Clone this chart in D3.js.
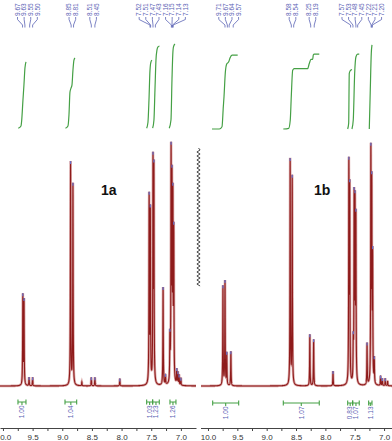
<!DOCTYPE html>
<html>
<head>
<meta charset="utf-8">
<script src="https://cdn.jsdelivr.net/npm/d3@7"></script>
<style>
  body { margin: 0; background: #fff; }
  svg { display: block; }
  .axis text { font-family: Arial, "Liberation Sans", sans-serif; font-size: 8px; fill: #333; }
  .axis path, .axis line { stroke: #444; }
  .plabel, .ilabel { font-family: Arial, "Liberation Sans", sans-serif; font-size: 6.5px; fill: #5b63b5; }
  .cname { font-family: Arial, "Liberation Sans", sans-serif; font-size: 14px; font-weight: bold; fill: #111; }
</style>
</head>
<body>
<svg id="chart" width="392" height="441"></svg>
<script>
// compound names
var compoundNames = ["1a", "1b"];

// peaks: [ppm, relative height]
var peaks1a = [
  [9.665, 36.5], [9.645, 34.5], [9.56, 3.5], [9.50, 3.5],
  [8.86, 91], [8.82, 82], [8.67, 1.5], [8.51, 3.5], [8.45, 3.5], [8.03, 3],
  [7.535, 76], [7.515, 70], [7.47, 89], [7.455, 86], [7.30, 40], [7.26, 4],
  [7.185, 18], [7.165, 92], [7.15, 78], [7.135, 72], [7.12, 60],
  [7.07, 6], [7.05, 5], [7.03, 4], [7.00, 3]
];
var peaks1b = [
  [9.745, 40.5], [9.71, 42.5], [9.68, 13], [9.61, 14],
  [8.60, 92], [8.565, 85], [8.265, 21], [8.20, 19], [7.87, 6],
  [7.60, 88], [7.585, 78], [7.525, 15], [7.51, 74], [7.495, 70], [7.48, 66],
  [7.29, 17], [7.225, 93], [7.21, 78], [7.195, 50], [7.167, 10],
  [7.06, 4], [7.03, 3], [6.98, 3], [6.94, 2]
];

// peak pick labels, one list per group
var peakLabels1a = [
  ["9.67", "9.63", "9.55", "9.50"],
  ["8.85", "8.81"],
  ["8.51", "8.45"],
  ["7.52", "7.51", "7.47", "7.43", "7.16", "7.15", "7.14", "7.13"]
];
var peakLabels1b = [
  ["9.71", "9.67", "9.64", "9.57"],
  ["8.58", "8.54"],
  ["8.25", "8.19"],
  ["7.57", "7.53", "7.48", "7.45", "7.22", "7.21", "7.20"]
];

// integral curves: [ppm, level]
var integrals1a = [
  [[9.742, 0.8], [9.696, 3.5], [9.685, 9.4], [9.663, 34], [9.646, 52], [9.629, 72], [9.612, 79]],
  [[8.946, 0.8], [8.904, 3.5], [8.887, 16.5], [8.870, 43.5], [8.853, 48], [8.836, 52], [8.820, 69], [8.803, 81], [8.786, 83.5]],
  [[7.577, 1], [7.555, 8], [7.538, 34], [7.521, 69], [7.504, 79], [7.487, 81]],
  [[7.476, 1], [7.454, 10.6], [7.437, 46], [7.420, 81], [7.403, 93], [7.386, 96.5], [7.361, 97.6]],
  [[7.196, 1], [7.167, 10.6], [7.150, 58], [7.137, 87], [7.125, 96.5], [7.100, 100]]
];
var integrals1b = [
  [[9.932, 0], [9.807, 0], [9.761, 2.7], [9.739, 26], [9.727, 38], [9.705, 66], [9.681, 76.5], [9.647, 79], [9.625, 83.5], [9.591, 87], [9.494, 87]],
  [[8.717, 0], [8.625, 0.8], [8.598, 10.6], [8.581, 38], [8.557, 69], [8.530, 71], [8.302, 71], [8.274, 77], [8.245, 82], [8.216, 82], [8.206, 87], [8.189, 88], [8.104, 88]],
  [[7.620, 0], [7.603, 6.7], [7.593, 65.5], [7.576, 68.6], [7.547, 70]],
  [[7.547, 0], [7.525, 10.6], [7.501, 65.5], [7.479, 85], [7.450, 88], [7.423, 88]],
  [[7.252, 0], [7.235, 46], [7.218, 89], [7.206, 99]]
];

// integration ranges: [from ppm, to ppm, value]
var intBars1a = [
  [9.747, 9.612, "1.00"], [8.954, 8.757, "1.04"], [7.577, 7.476, "1.03"],
  [7.476, 7.364, "1.23"], [7.184, 7.083, "1.26"]
];
var intBars1b = [
  [9.920, 9.477, "1.00"], [8.717, 8.104, "1.07"], [7.620, 7.535, "0.83"],
  [7.535, 7.423, "1.07"], [7.263, 7.206, "1.13"]
];

// axis ticks (ppm)
var tickValues = [10.0, 9.75, 9.5, 9.25, 9.0, 8.75, 8.5, 8.25, 8.0, 7.75, 7.5, 7.25, 7.0];

var lineWidth = 0.004; // lorentzian half width, ppm

var svg = d3.select("#chart");

var yScale = d3.scaleLinear().domain([0, 100]).range([386, 141]);
var yInt = d3.scaleLinear().domain([0, 100]).range([129, 44]);

var panels = [
  {name: compoundNames[0], peaks: peaks1a, labels: peakLabels1a, integrals: integrals1a, bars: intBars1a,
   x: d3.scaleLinear().domain([10.05, 6.745]).range([0, 196]), clip: [0, 197], namePos: [101, 195], barY: 402},
  {name: compoundNames[1], peaks: peaks1b, labels: peakLabels1b, integrals: integrals1b, bars: intBars1b,
   x: d3.scaleLinear().domain([10.136, 6.865]).range([200, 392]), clip: [201, 392], namePos: [314, 195], barY: 403}
];

function intensity(peaks, p) {
  return d3.sum(peaks, function(d) { return d[1] / (1 + Math.pow((p - d[0]) / lineWidth, 2)); });
}

var defs = svg.append("defs");

panels.forEach(function(panel, k) {
  var x = panel.x;
  var dom = x.domain();

  defs.append("clipPath").attr("id", "clip" + k)
    .append("rect")
    .attr("x", panel.clip[0]).attr("y", 0)
    .attr("width", panel.clip[1] - panel.clip[0]).attr("height", 441);

  var g = svg.append("g").attr("clip-path", "url(#clip" + k + ")");

  // spectrum
  var pts = [];
  for (var p = dom[0]; p >= dom[1]; p -= 0.001) {
    pts.push([p, intensity(panel.peaks, p)]);
  }
  var line = d3.line().x(d => x(d[0])).y(d => yScale(d[1]));

  g.append("path")
    .attr("d", line(pts))
    .attr("fill", "none")
    .attr("stroke", "#dba8a8")
    .attr("stroke-width", 2.6);
  g.append("path")
    .attr("d", line(pts))
    .attr("fill", "none")
    .attr("stroke", "#8e1b1b")
    .attr("stroke-width", 1.1);

  // peak top markers
  g.selectAll(".mark")
    .data(panel.peaks.filter(d => d[1] >= 3))
    .enter()
    .append("line")
    .attr("x1", d => x(d[0])).attr("x2", d => x(d[0]))
    .attr("y1", d => yScale(intensity(panel.peaks, d[0])))
    .attr("y2", d => yScale(intensity(panel.peaks, d[0])) + 3)
    .attr("stroke", "#6a72c8")
    .attr("stroke-width", 1.3);

  // integral curves
  var intLine = d3.line().curve(d3.curveMonotoneX).x(d => x(d[0])).y(d => yInt(d[1]));
  g.selectAll(".integral")
    .data(panel.integrals)
    .enter()
    .append("path")
    .attr("d", intLine)
    .attr("fill", "none")
    .attr("stroke", "#45a045")
    .attr("stroke-width", 1.2);

  // peak labels
  panel.labels.forEach(function(group) {
    var cx = d3.mean(group, d => x(+d));
    group.forEach(function(lab, i) {
      var lx = cx + (i - (group.length - 1) / 2) * 6.6;
      var px = x(+lab);
      g.append("path")
        .attr("d", `M${lx},17 L${lx},19.5 L${px},25 L${px},27.5`)
        .attr("fill", "none")
        .attr("stroke", "#5b63b5")
        .attr("stroke-width", 0.8);
      g.append("text")
        .attr("class", "plabel")
        .attr("transform", `translate(${lx},16) rotate(-90)`)
        .attr("dy", "0.35em")
        .text(lab);
    });
  });

  // integration bars
  var bars = g.selectAll(".bar")
    .data(panel.bars)
    .enter()
    .append("g");
  bars.append("path")
    .attr("d", function(d) {
      var a = x(d[0]), b = x(d[1]), y0 = panel.barY;
      return `M${a},${y0 - 2.5}V${y0 + 2.5}M${a},${y0}H${b}M${b},${y0 - 2.5}V${y0 + 2.5}M${(a + b) / 2},${y0}V${y0 + 3}`;
    })
    .attr("fill", "none")
    .attr("stroke", "#45a045")
    .attr("stroke-width", 1.1);
  bars.append("text")
    .attr("class", "ilabel")
    .attr("text-anchor", "end")
    .attr("transform", d => `translate(${(x(d[0]) + x(d[1])) / 2},${panel.barY + 3.5}) rotate(-90)`)
    .attr("dy", "0.35em")
    .text(d => d[2]);

  // axis
  g.append("g")
    .attr("class", "axis")
    .attr("transform", "translate(0,428)")
    .call(d3.axisBottom(x)
      .tickValues(tickValues)
      .tickSize(3)
      .tickSizeOuter(0)
      .tickFormat(d => (Math.round(d * 100) % 50 === 0) ? d.toFixed(1) : ""));

  // compound name
  svg.append("text")
    .attr("class", "cname")
    .attr("x", panel.namePos[0])
    .attr("y", panel.namePos[1])
    .text(panel.name);
});

// broken-axis wavy divider
var wave = "M198.5,148";
for (var yy = 148, s = 1; yy < 286; yy += 2, s = -s) {
  wave += ` L${198.5 + s * 1.6},${yy + 2}`;
}
svg.append("path")
  .attr("d", wave)
  .attr("fill", "none")
  .attr("stroke", "#333")
  .attr("stroke-width", 0.9);
</script>
</body>
</html>
